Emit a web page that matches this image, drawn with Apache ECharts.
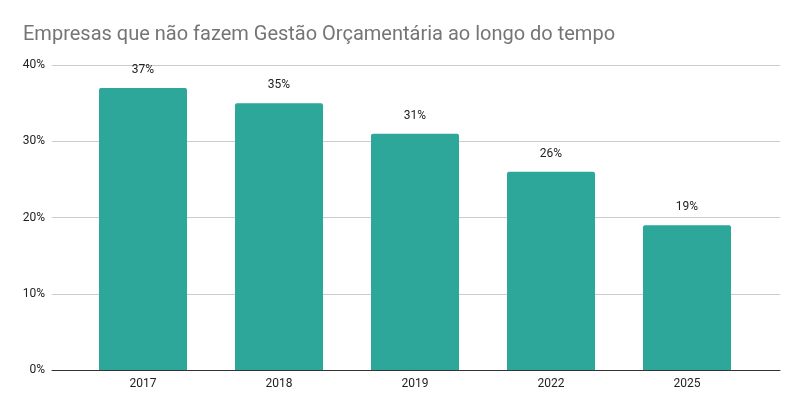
<!DOCTYPE html>
<html>
<head>
<meta charset="utf-8">
<script src="https://cdn.jsdelivr.net/npm/echarts@6/dist/echarts.min.js"></script>
<style>
  html, body { margin: 0; padding: 0; background: #fff; }
  #main { width: 800px; height: 411px; }
</style>
</head>
<body>
<div id="main"></div>
<script>
const years = ['2017', '2018', '2019', '2022', '2025'];
const shares = [37, 35, 31, 26, 19];
const yTicks = [0, 10, 20, 30, 40];

const FONT = 'Roboto, Arial, sans-serif';
const myChart = echarts.init(document.getElementById('main'));

const option = {
  animation: false,
  title: {
    text: 'Empresas que não fazem Gestão Orçamentária ao longo do tempo',
    left: 18,
    top: 20,
    textStyle: { fontFamily: FONT, fontSize: 20, fontWeight: 'normal', color: '#757575' }
  },
  grid: [
    { left: 52, right: 20, top: 65, bottom: 41 },
    { left: 75, right: 45, top: 65, bottom: 41 }
  ],
  xAxis: [
    {
      gridIndex: 0,
      type: 'category',
      data: years,
      z: 10,
      axisLine: { lineStyle: { color: '#333333', width: 1 } },
      axisTick: { show: false },
      axisLabel: { show: false }
    },
    {
      gridIndex: 1,
      type: 'category',
      data: years,
      axisLine: { show: false },
      axisTick: { show: false },
      axisLabel: { fontFamily: FONT, fontSize: 12, color: '#222', margin: 8 }
    }
  ],
  yAxis: [
    {
      gridIndex: 0,
      type: 'value',
      min: yTicks[0],
      max: yTicks[yTicks.length - 1],
      interval: 10,
      axisLine: { show: false },
      axisTick: { show: false },
      axisLabel: { fontFamily: FONT, fontSize: 12, color: '#222', margin: 7, formatter: '{value}%' },
      splitLine: { lineStyle: { color: '#cccccc', width: 1 } }
    },
    {
      gridIndex: 1,
      type: 'value',
      min: yTicks[0],
      max: yTicks[yTicks.length - 1],
      interval: 10,
      show: false,
      splitLine: { show: false }
    }
  ],
  series: [
    {
      type: 'bar',
      xAxisIndex: 1,
      yAxisIndex: 1,
      data: shares,
      barWidth: 88,
      itemStyle: { color: '#2ca79a', borderRadius: [2, 2, 0, 0] },
      label: {
        show: true,
        position: 'top',
        distance: 12,
        formatter: '{c}%',
        fontFamily: FONT,
        fontSize: 12,
        color: '#222'
      },
      z: 2
    }
  ]
};
myChart.setOption(option);
</script>
</body>
</html>
